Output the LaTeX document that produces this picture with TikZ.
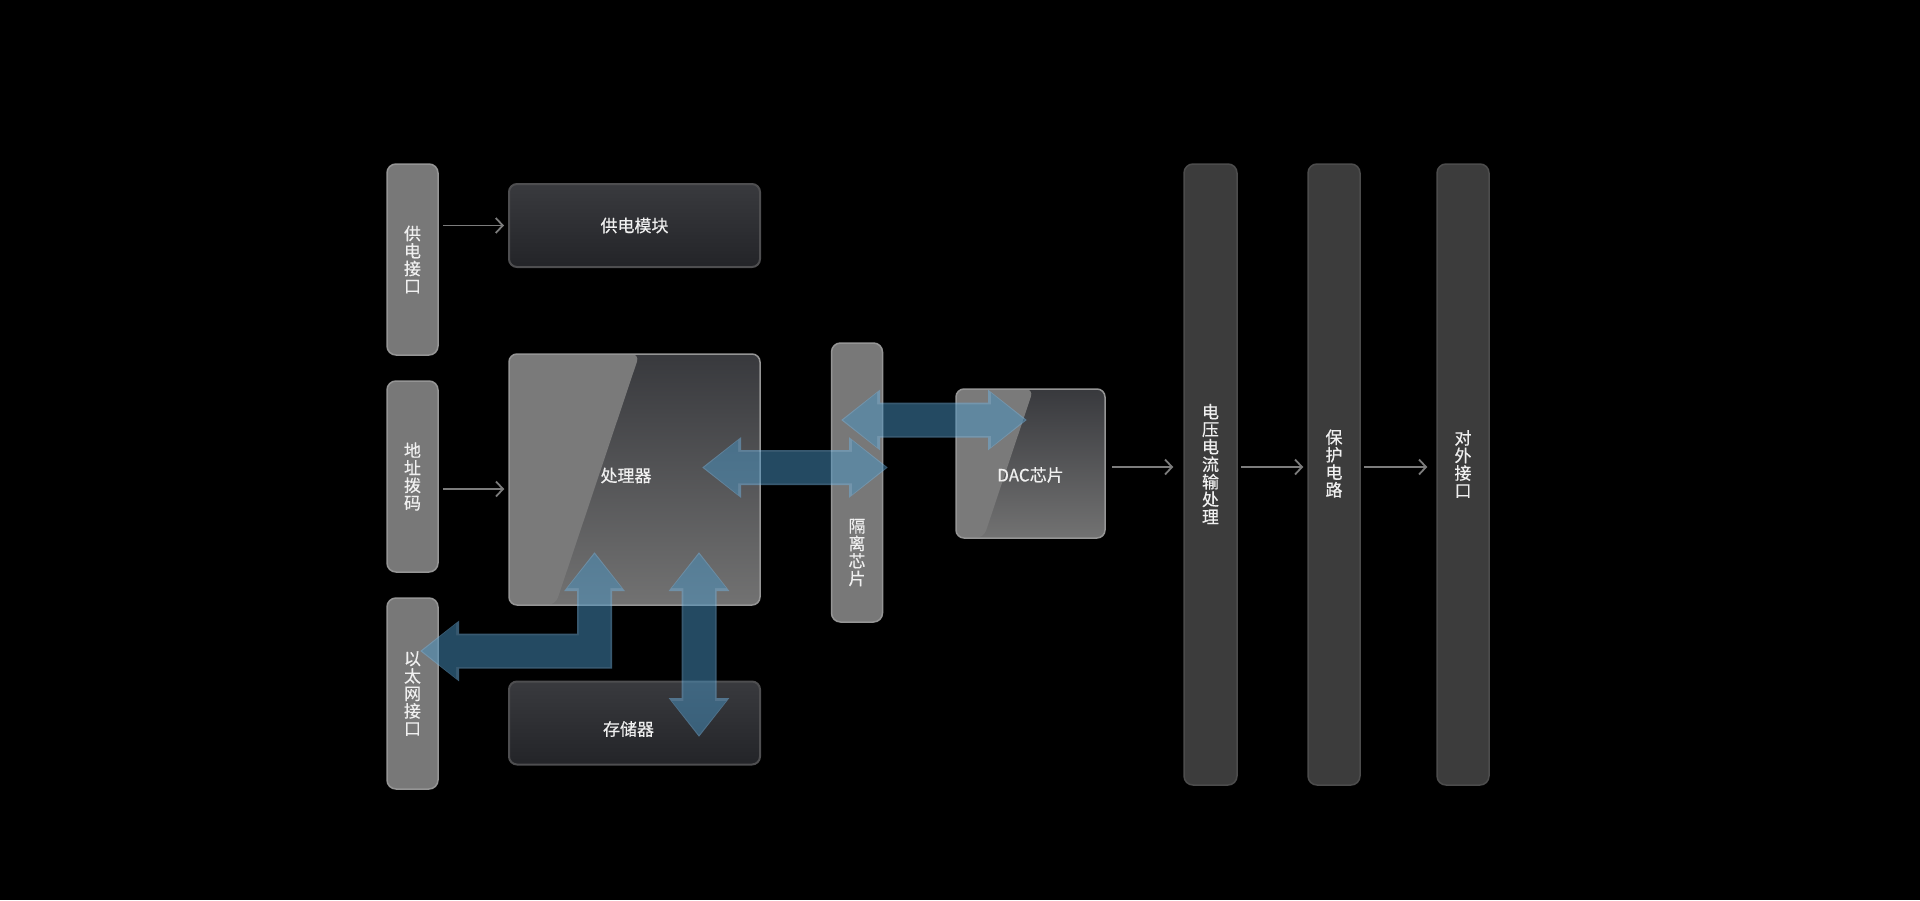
\documentclass[tikz,border=0pt]{standalone}
\usepackage{fontspec}
\newfontfamily\cjk{Noto Sans CJK SC}[FakeBold=0.4]
\usetikzlibrary{arrows.meta,calc}

\definecolor{barfill}{HTML}{787878}
\definecolor{barline}{HTML}{959595}
\definecolor{dbarfill}{HTML}{3C3C3C}
\definecolor{dbarline}{HTML}{4C4C4C}
\definecolor{platetop}{HTML}{393A3E}
\definecolor{platebot}{HTML}{232428}
\definecolor{plateline}{HTML}{4E4E50}
\definecolor{glasstop}{HTML}{38393D}
\definecolor{glassbot}{HTML}{727272}
\definecolor{glossgray}{HTML}{7A7A7A}
\definecolor{linkgray}{HTML}{7C7C7C}
\definecolor{busedge}{RGB}{112,178,224}
\definecolor{busfill}{RGB}{72,148,196}

\tikzset{
  txt/.style={text=white!94!black, font=\cjk\fontsize{17}{17.5}\selectfont, align=center},
  bar/.style={txt, draw=barline, fill=barfill, line width=1.5pt, rounded corners=9pt,
    minimum width=51pt, minimum height=191pt, inner sep=0pt},
  darkbar/.style={bar, draw=dbarline, fill=dbarfill, minimum height=621pt},
  plate/.style={txt, draw=plateline, line width=2pt, top color=platetop, bottom color=platebot,
    rounded corners=8pt, minimum width=251pt, minimum height=83pt},
  glass/.style={txt, draw=barline, line width=1.5pt, top color=glasstop, bottom color=glassbot,
    rounded corners=8pt, minimum width=251pt, minimum height=251pt,
    path picture={
      \fill[glossgray] (path picture bounding box.north west)
        -- ($(path picture bounding box.north west)!0.52!(path picture bounding box.north east)$)
        -- ($(path picture bounding box.south west)!0.185!(path picture bounding box.south east)$)
        -- (path picture bounding box.south west) -- cycle;
    }},
  link/.style={draw=linkgray, line width=1.8pt, shorten <=4pt, shorten >=4pt,
    -{Straight Barb[length=7pt,width=15pt]}},
  busout/.style={draw=busedge, line width=35pt, line join=miter,
    {Triangle[length=39pt,width=58pt]}-{Triangle[length=39pt,width=58pt]}},
  busin/.style={draw=busfill, line width=31.5pt, line join=miter, shorten <=2pt, shorten >=2pt,
    {Triangle[length=34pt,width=52pt]}-{Triangle[length=34pt,width=52pt]}}
}

\begin{document}
\begin{tikzpicture}[x=1pt, y=-1pt]
    \fill[black] (0,0) rectangle (1920,900);
    \useasboundingbox (0,0) rectangle (1920,900);

    % left side
    \node[bar] (gdjk) at (412.5, 259.5) {供\\电\\接\\口};
    \node[bar] (dzbm) at (412.5, 476.5) {地\\址\\拨\\码};
    \node[bar] (ytw) at (412.5, 693.5) {以\\太\\网\\接\\口};

    \node[plate] (gdmk) at (634.5, 225.5) {供电模块};
    \node[glass, label={[txt, xshift=-8.5pt, yshift=4pt]center:处理器}] (cpu) at (634.5, 479.5) {};
    \node[plate, label={[txt, xshift=-6pt, yshift=-6pt]center:存储器}] (ccq) at (634.5, 723) {};

    \node[bar, minimum height=279pt,
      label={[txt, yshift=-70pt]center:{隔\\离\\芯\\片}}] (glxp) at (857, 482.5) {};
    \node[glass, minimum width=149pt, minimum height=149pt,
      label={[txt, yshift=-11.5pt]center:DAC芯片}] (dac) at (1030.5, 463.5) {};

    % right side
    \node[darkbar, minimum width=53pt,
      label={[txt, yshift=10.5pt]center:{电\\压\\电\\流\\输\\处\\理}}] (dycl) at (1210.5, 474.5) {};
    \node[darkbar, minimum width=52pt,
      label={[txt, yshift=11pt]center:{保\\护\\电\\路}}] (bhdl) at (1334, 474.5) {};
    \node[darkbar, minimum width=52pt,
      label={[txt, yshift=10.5pt]center:{对\\外\\接\\口}}] (dwjk) at (1463, 474.5) {};

    \draw[link] (gdjk.east |- gdmk.west) -- (gdmk.west);
    \draw[link] (dzbm.east |- 0,489) -- (cpu.west |- 0,489);
    \draw[link, shorten <=6pt, shorten >=10pt] (dac.east |- 0,467) -- (dycl.west |- 0,467);
    \draw[link, shorten <=3pt] (dycl.east |- 0,467) -- (bhdl.west |- 0,467);
    \draw[link, shorten <=3pt, shorten >=9pt] (bhdl.east |- 0,467) -- (dwjk.west |- 0,467);

    % bus arrows
    \coordinate (cpu-r) at (702, 467.5);
    \coordinate (glxp-r) at (888, 467.5);
    \coordinate (glxp-l) at (841, 420);
    \coordinate (dac-l) at (1027, 420);
    \coordinate (cpu-b1) at (594.5, 552);
    \coordinate (ytw-r) at (420, 651);
    \coordinate (cpu-b2) at (699, 552);
    \coordinate (ccq-c) at (699, 737);

    \begin{scope}[transparency group, opacity=0.5]
      \draw[busout] (cpu-r) -- (glxp-r);
      \draw[busin] (cpu-r) -- (glxp-r);
      \draw[busout] (glxp-l) -- (dac-l);
      \draw[busin] (glxp-l) -- (dac-l);
      \draw[busout] (cpu-b1) -- (cpu-b1 |- ytw-r) -- (ytw-r);
      \draw[busin] (cpu-b1) -- (cpu-b1 |- ytw-r) -- (ytw-r);
      \draw[busout] (cpu-b2) -- (ccq-c);
      \draw[busin] (cpu-b2) -- (ccq-c);
    \end{scope}
  \end{tikzpicture}
\end{document}
